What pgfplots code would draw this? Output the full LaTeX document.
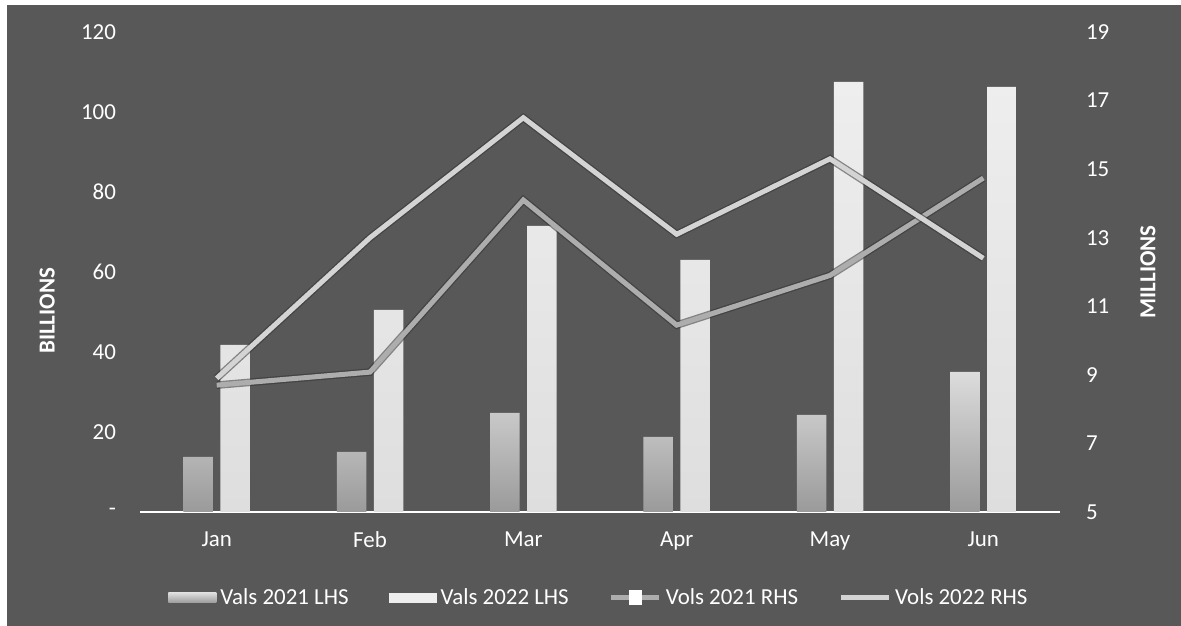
\documentclass[border=0pt]{standalone}
\usepackage{fontspec}
\setmainfont{Carlito}
\usepackage{pgfplots}
\pgfplotsset{compat=1.18}

\definecolor{bg}{HTML}{585858}
\definecolor{valsA}{HTML}{DCDCDC}
\definecolor{valsAbot}{HTML}{9A9A9A}
\definecolor{valsB}{HTML}{EEEEEE}
\definecolor{valsBbot}{HTML}{DEDEDE}
\definecolor{volsA}{HTML}{ADADAD}
\definecolor{volsB}{HTML}{D4D4D4}

\newcommand{\lblfont}{\fontsize{11.5}{13}\selectfont}

\pgfplotsset{
  base/.style={
    scale only axis, width=460bp, height=240bp,
    at={(70bp,57bp)}, anchor=south west,
    xmin=-0.5, xmax=5.5,
    tick style={draw=none},
    ticklabel style={text=white, font=\lblfont},
    /pgf/number format/assume math mode=true,
  },
}

\begin{document}
\begin{tikzpicture}
% page background
\fill[white] (0,0) rectangle (590.5bp,313bp);
\fill[bg] (3.5bp,0) rectangle (590.5bp,310.5bp);

% values, billions (left axis)
\begin{axis}[base,
  ymin=0, ymax=120,
  axis x line*=bottom, axis y line*=left,
  x axis line style={-, white, line width=1.2bp},
  y axis line style={draw=none},
  xtick={0,...,5}, xticklabels={Jan,Feb,Mar,Apr,May,Jun},
  xticklabel style={yshift=-6.5bp},
  ytick={0,20,...,120}, yticklabels={-,20,40,60,80,100,120},
  yticklabel style={xshift=-8.5bp},
  ylabel={\bfseries BILLIONS},
  every axis y label/.style={at={(axis description cs:-0.101,0.419)}, rotate=90, anchor=center, text=white, font=\lblfont},
]
\addplot[ybar, bar width=14.75bp, bar shift=-9.25bp, draw=none,
  top color=valsA, bottom color=valsAbot]
  coordinates {(0,13.75) (1,15) (2,24.75) (3,18.75) (4,24.25) (5,35)};
\addplot[ybar, bar width=14.75bp, bar shift=9.25bp, draw=none,
  top color=valsB, bottom color=valsBbot]
  coordinates {(0,41.75) (1,50.5) (2,71.5) (3,63) (4,107.5) (5,106.25)};
\end{axis}

% volumes, millions (right axis)
\begin{axis}[base,
  ymin=5, ymax=19,
  axis x line=none, axis y line*=right,
  y axis line style={draw=none},
  ytick={5,7,...,19},
  yticklabel style={xshift=9.5bp},
  ylabel={\bfseries MILLIONS},
  every axis y label/.style={at={(axis description cs:1.0957,0.5)}, rotate=90, anchor=center, text=white, font=\lblfont},
  legend columns=4,
  legend style={at={(0.5,-0.179)}, anchor=center, draw=none, fill=none,
    text=white, font=\lblfont,
    /tikz/every even column/.append style={column sep=18bp}},
]
\addlegendimage{legend image code/.code={\path[draw=none, top color=valsA, bottom color=valsAbot] (0bp,-2.5bp) rectangle (24bp,2.5bp);}}
\addlegendentry{Vals 2021 LHS}
\addlegendimage{legend image code/.code={\path[draw=none, fill=valsB] (0bp,-2.5bp) rectangle (24bp,2.5bp);}}
\addlegendentry{Vals 2022 LHS}

\addplot[forget plot, black!80, opacity=0.55, line width=3.8bp, line join=miter]
  coordinates {(0,8.7) (1,9.08) (2,14.1) (3,10.45) (4,11.9) (5,14.74)};
\addplot[volsA, line width=2.5bp, line join=miter,
  legend image code/.code={\draw[volsA, line width=2.5bp] (0bp,0bp) -- (24bp,0bp);
    \fill[white] (10bp,-2.5bp) rectangle (14bp,2.5bp);}]
  coordinates {(0,8.7) (1,9.08) (2,14.1) (3,10.45) (4,11.9) (5,14.74)};
\addlegendentry{Vols 2021 RHS}

\addplot[forget plot, black!80, opacity=0.55, line width=3.8bp, line join=miter]
  coordinates {(0,8.9) (1,13.0) (2,16.5) (3,13.1) (4,15.3) (5,12.4)};
\addplot[volsB, line width=2.5bp, line join=miter,
  legend image code/.code={\draw[volsB, line width=2.5bp] (0bp,0bp) -- (24bp,0bp);}]
  coordinates {(0,8.9) (1,13.0) (2,16.5) (3,13.1) (4,15.3) (5,12.4)};
\addlegendentry{Vols 2022 RHS}
\end{axis}
\end{tikzpicture}
\end{document}
